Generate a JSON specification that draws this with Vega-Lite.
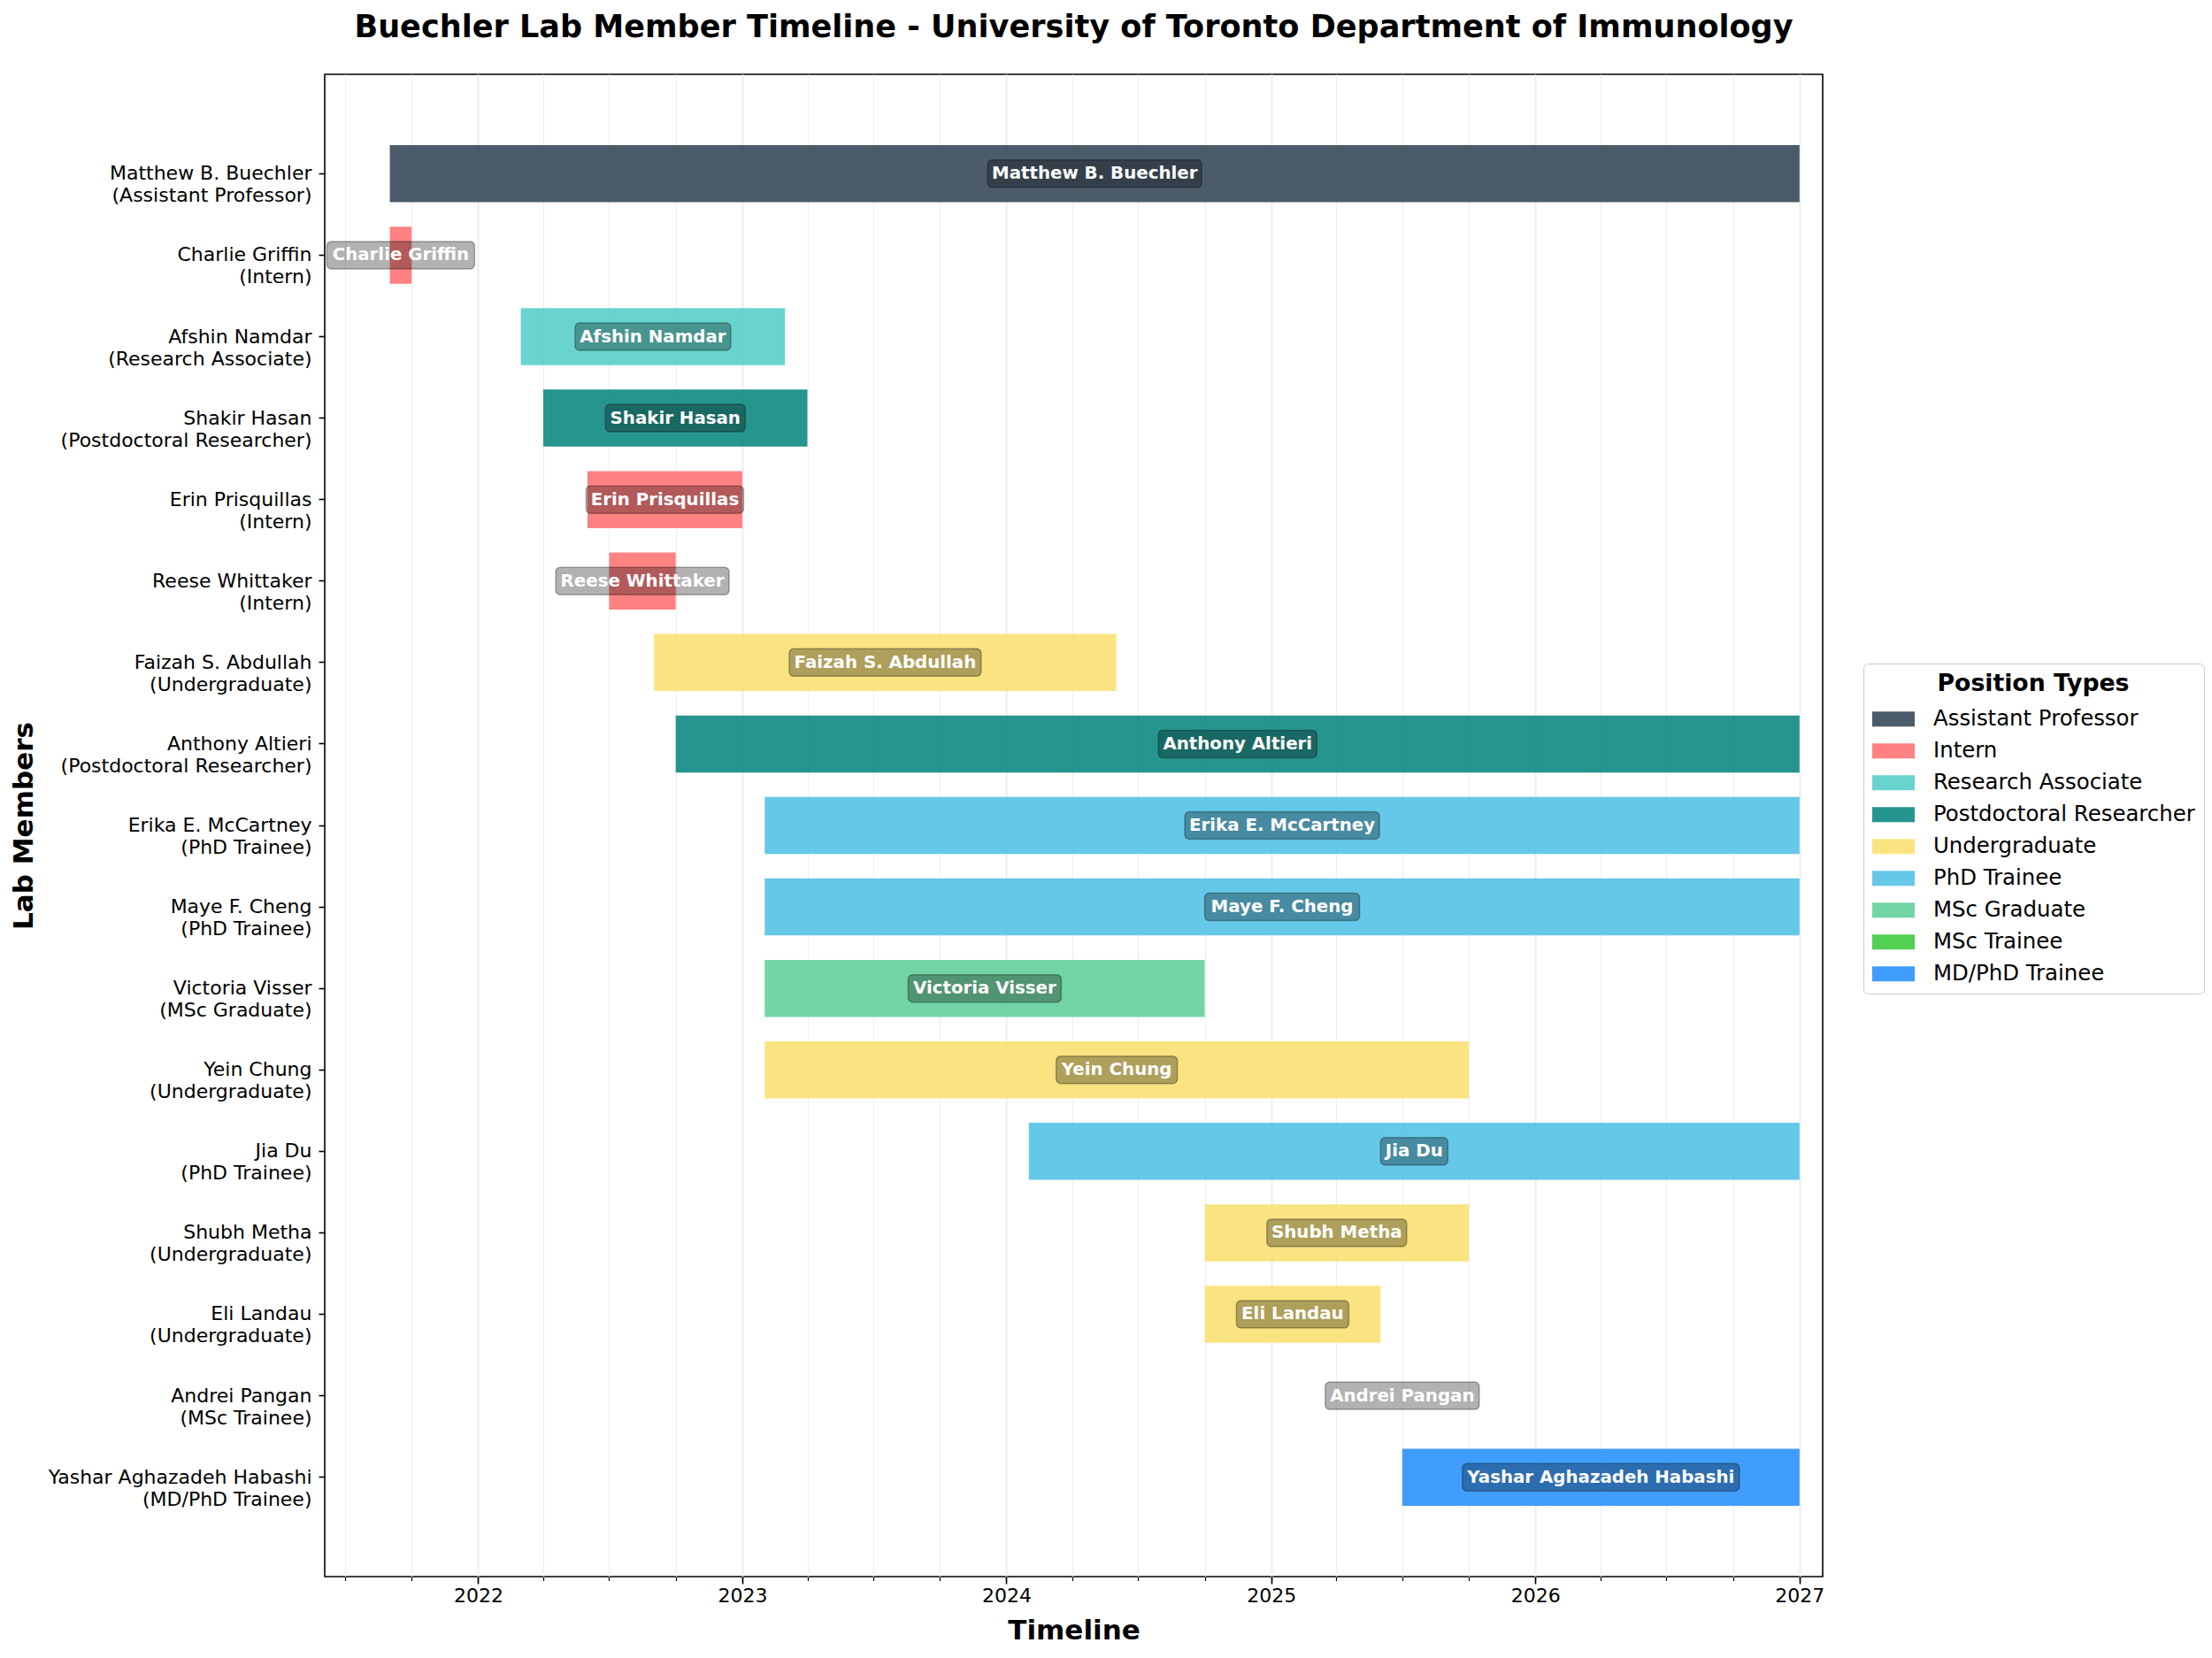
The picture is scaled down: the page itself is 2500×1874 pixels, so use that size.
{
  "$schema": "https://vega.github.io/schema/vega-lite/v6.json",
  "width": 1693,
  "height": 1698,
  "autosize": {"type": "none"},
  "padding": {"left": 367, "top": 84, "right": 440, "bottom": 92},
  "background": "white",
  "title": {
    "text": "Buechler Lab Member Timeline - University of Toronto Department of Immunology",
    "font": "DejaVu Sans",
    "fontSize": 35.1,
    "fontWeight": "bold",
    "color": "black",
    "anchor": "middle",
    "baseline": "alphabetic",
    "offset": 7
  },
  "config": {
    "font": "DejaVu Sans",
    "view": {"stroke": "black", "strokeWidth": 1.6}
  },
  "data": {
    "values": [
      {"name": "Matthew B. Buechler", "role": "Assistant Professor", "start": "2021-09-01", "end": "2027-01-01"},
      {"name": "Charlie Griffin", "role": "Intern", "start": "2021-09-01", "end": "2021-10-01"},
      {"name": "Afshin Namdar", "role": "Research Associate", "start": "2022-03-01", "end": "2023-03-01"},
      {"name": "Shakir Hasan", "role": "Postdoctoral Researcher", "start": "2022-04-01", "end": "2023-04-01"},
      {"name": "Erin Prisquillas", "role": "Intern", "start": "2022-06-01", "end": "2023-01-01"},
      {"name": "Reese Whittaker", "role": "Intern", "start": "2022-07-01", "end": "2022-10-01"},
      {"name": "Faizah S. Abdullah", "role": "Undergraduate", "start": "2022-09-01", "end": "2024-06-01"},
      {"name": "Anthony Altieri", "role": "Postdoctoral Researcher", "start": "2022-10-01", "end": "2027-01-01"},
      {"name": "Erika E. McCartney", "role": "PhD Trainee", "start": "2023-02-01", "end": "2027-01-01"},
      {"name": "Maye F. Cheng", "role": "PhD Trainee", "start": "2023-02-01", "end": "2027-01-01"},
      {"name": "Victoria Visser", "role": "MSc Graduate", "start": "2023-02-01", "end": "2024-10-01"},
      {"name": "Yein Chung", "role": "Undergraduate", "start": "2023-02-01", "end": "2025-10-01"},
      {"name": "Jia Du", "role": "PhD Trainee", "start": "2024-02-01", "end": "2027-01-01"},
      {"name": "Shubh Metha", "role": "Undergraduate", "start": "2024-10-01", "end": "2025-10-01"},
      {"name": "Eli Landau", "role": "Undergraduate", "start": "2024-10-01", "end": "2025-06-01"},
      {"name": "Andrei Pangan", "role": "MSc Trainee", "start": "2025-07-01", "end": "2025-07-01"},
      {"name": "Yashar Aghazadeh Habashi", "role": "MD/PhD Trainee", "start": "2025-07-01", "end": "2027-01-01"}
    ]
  },
  "transform": [
    {"calculate": "datum.name + '\\n(' + datum.role + ')'", "as": "member"},
    {"calculate": "(time(datum.start) + time(datum.end)) / 2", "as": "mid"}
  ],
  "resolve": {"axis": {"x": "independent", "y": "independent"}},
  "layer": [
    {
      "mark": {"type": "bar", "opacity": 0.85},
      "encoding": {
        "y": {
          "field": "member",
          "type": "nominal",
          "sort": null,
          "scale": {"paddingInner": 0.3, "paddingOuter": 0.87},
          "axis": {
            "title": "Lab Members",
            "titleFontSize": 31,
            "titleFontWeight": "bold",
            "titleColor": "black",
            "titleX": -340,
            "titleY": 849,
            "titleAngle": -90,
            "titleAlign": "center",
            "titleBaseline": "middle",
            "labelFontSize": 22,
            "labelColor": "black",
            "labelExpr": "split(datum.label, '\\n')",
            "labelLineHeight": 25,
            "labelLimit": 0,
            "labelPadding": 8,
            "tickSize": 7,
            "tickColor": "black",
            "tickWidth": 1.6,
            "domain": false,
            "grid": false
          }
        },
        "x": {
          "field": "start",
          "type": "temporal",
          "scale": {
            "type": "utc",
            "domain": [
              {"year": 2021, "month": 6, "date": 3, "utc": true},
              {"year": 2027, "month": 2, "date": 2, "utc": true}
            ]
          },
          "axis": {
            "title": "Timeline",
            "titleFontSize": 31,
            "titleFontWeight": "bold",
            "titleColor": "black",
            "titlePadding": 14,
            "format": "%Y",
            "formatType": "utc",
            "tickCount": {"interval": "year", "step": 1},
            "labelFontSize": 22,
            "labelColor": "black",
            "labelPadding": 3,
            "labelFlush": false,
            "labelOverlap": false,
            "tickSize": 8,
            "tickColor": "black",
            "tickWidth": 1.6,
            "domain": false,
            "grid": true,
            "gridColor": "#e2e2e2",
            "gridWidth": 1.6
          }
        },
        "x2": {"field": "end"},
        "color": {
          "field": "role",
          "type": "nominal",
          "scale": {
            "domain": ["Assistant Professor", "Intern", "Research Associate", "Postdoctoral Researcher", "Undergraduate", "PhD Trainee", "MSc Graduate", "MSc Trainee", "MD/PhD Trainee"],
            "range": ["#2C3E50", "#FF6B6B", "#4ECDC4", "#00827A", "#F9DF6C", "#4BBEE4", "#5ACD95", "#32C832", "#1E8CFA"]
          },
          "legend": {
            "title": "Position Types",
            "orient": "none",
            "legendX": 1739,
            "legendY": 666,
            "fillColor": "white",
            "strokeColor": "#cccccc",
            "cornerRadius": 5,
            "padding": 10,
            "titleFont": "DejaVu Sans",
            "titleFontSize": 26.7,
            "titleFontWeight": "bold",
            "titleColor": "black",
            "titleAnchor": "middle",
            "titleLimit": 0,
            "titlePadding": 2,
            "labelFont": "DejaVu Sans",
            "labelFontSize": 24.4,
            "labelColor": "black",
            "labelLimit": 0,
            "labelOffset": 21,
            "rowPadding": -0.3,
            "symbolType": "M-1,-0.354L1,-0.354L1,0.354L-1,0.354Z",
            "symbolSize": 2304,
            "symbolStrokeWidth": 0,
            "symbolOpacity": 0.85
          }
        }
      }
    },
    {
      "mark": {
        "type": "tick",
        "orient": "horizontal",
        "thickness": 31,
        "cornerRadius": 5,
        "filled": true,
        "fill": "black",
        "fillOpacity": 0.3,
        "stroke": "black",
        "strokeOpacity": 0.3,
        "strokeWidth": 1.5
      },
      "encoding": {
        "y": {"field": "member", "type": "nominal", "sort": null, "axis": null},
        "x": {
          "field": "mid",
          "type": "temporal",
          "axis": {
            "orient": "bottom",
            "title": null,
            "labels": false,
            "tickCount": {"interval": "month", "step": 3},
            "tickSize": 4.5,
            "tickColor": "black",
            "tickWidth": 1.2,
            "domain": false,
            "grid": true,
            "gridColor": "#eeeeee",
            "gridWidth": 1.2
          }
        },
        "size": {
          "field": "name",
          "type": "nominal",
          "scale": {
            "type": "ordinal",
            "domain": ["Matthew B. Buechler", "Charlie Griffin", "Afshin Namdar", "Shakir Hasan", "Erin Prisquillas", "Reese Whittaker", "Faizah S. Abdullah", "Anthony Altieri", "Erika E. McCartney", "Maye F. Cheng", "Victoria Visser", "Yein Chung", "Jia Du", "Shubh Metha", "Eli Landau", "Andrei Pangan", "Yashar Aghazadeh Habashi"],
            "range": [242, 167, 176, 158, 178, 196, 217, 179, 220, 175, 173, 137, 76, 158, 127, 174, 313]
          },
          "legend": null
        }
      }
    },
    {
      "mark": {
        "type": "text",
        "color": "white",
        "font": "DejaVu Sans",
        "fontWeight": "bold",
        "fontSize": 19.8,
        "align": "center",
        "baseline": "middle"
      },
      "encoding": {
        "y": {"field": "member", "type": "nominal", "sort": null, "axis": null},
        "x": {"field": "mid", "type": "temporal", "axis": null},
        "text": {"field": "name"}
      }
    }
  ]
}
